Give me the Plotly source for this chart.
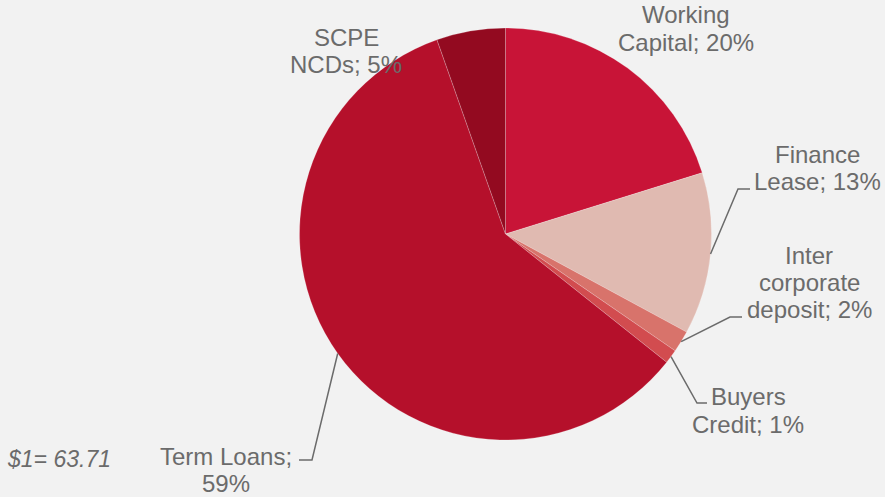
import numpy as np
import plotly.graph_objects as go

# ---- data ----
categories = ["Working Capital", "Finance Lease", "Inter corporate deposit",
              "Buyers Credit", "Term Loans", "SCPE NCDs"]
values = [20.2, 12.7, 1.7, 1.1, 58.9, 5.4]
colors = ["#c81437", "#e0bab1", "#d8736b", "#d24c4f", "#b5102b", "#930a20"]
label_lines = [["Working", "Capital; {p}%"], ["Finance", "Lease; {p}%"],
               ["Inter", "corporate", "deposit; {p}%"], ["Buyers", "Credit; {p}%"],
               ["Term Loans;", "{p}%"], ["SCPE", "NCDs; {p}%"]]
footnote = "$1= 63.71"

W, H = 885, 497
CX, CY, R = 505.5, 234.0, 206.0
TXT = "#6b6b6b"
FONT = "Liberation Sans, Arial, sans-serif"

# label layout (pixels): centre x, first baseline y, line step; leader path points (after edge point)
label_pos = [(686, 23, 27, None),
             (817, 162, 27, [(738, 189), (750, 189)]),
             (809, 263, 27, [(730, 317), (742, 317)]),
             (748, 404, 28, [(697, 403), (707, 403)]),
             (226, 464, 27, [(312, 460), (299, 460)]),
             (346, 45, 28, None)]

def px(x):
    return x / W

def py(y):
    return 1 - y / H

fig = go.Figure(go.Pie(
    labels=categories, values=values, sort=False, direction="clockwise", rotation=0,
    marker=dict(colors=colors, line=dict(color="rgba(255,255,255,0.35)", width=0.6)),
    textinfo="none", hoverinfo="label+percent", showlegend=False,
    domain=dict(x=[px(CX - R), px(CX + R)], y=[py(CY + R), py(CY - R)]),
))

total = float(np.sum(values))
cum = np.cumsum([0] + values[:-1])
annotations = []
shapes = []
for i, cat in enumerate(categories):
    pct = int(round(values[i] / total * 100))
    cx, base, step, leader = label_pos[i]
    for j, ln in enumerate(label_lines[i]):
        annotations.append(dict(
            x=px(cx), y=py(base + j * step - 8), xref="paper", yref="paper",
            text=ln.format(p=pct), showarrow=False, xanchor="center", yanchor="middle",
            font=dict(family=FONT, size=24, color=TXT)))
    if leader:
        mid = (cum[i] + values[i] / 2) / total * 2 * np.pi
        ex, ey = CX + R * np.sin(mid), CY - R * np.cos(mid)
        pts = [(ex, ey)] + leader
        path = "M " + " L ".join(f"{px(x):.5f},{py(y):.5f}" for x, y in pts)
        shapes.append(dict(type="path", path=path, xref="paper", yref="paper",
                           line=dict(color=TXT, width=1.5)))

annotations.append(dict(x=px(5), y=py(467 - 8), xref="paper", yref="paper",
                        text=f"<i>{footnote}</i>", showarrow=False, xanchor="left",
                        yanchor="middle", font=dict(family=FONT, size=23, color=TXT)))

fig.update_layout(width=W, height=H, margin=dict(l=0, r=0, t=0, b=0),
                  paper_bgcolor="#f2f2f2", plot_bgcolor="#f2f2f2",
                  annotations=annotations, shapes=shapes)
fig.write_html("out.html", config={"displayModeBar": False},
               post_script="document.body.style.margin='0';"
                           "document.body.style.background='#f2f2f2';")
